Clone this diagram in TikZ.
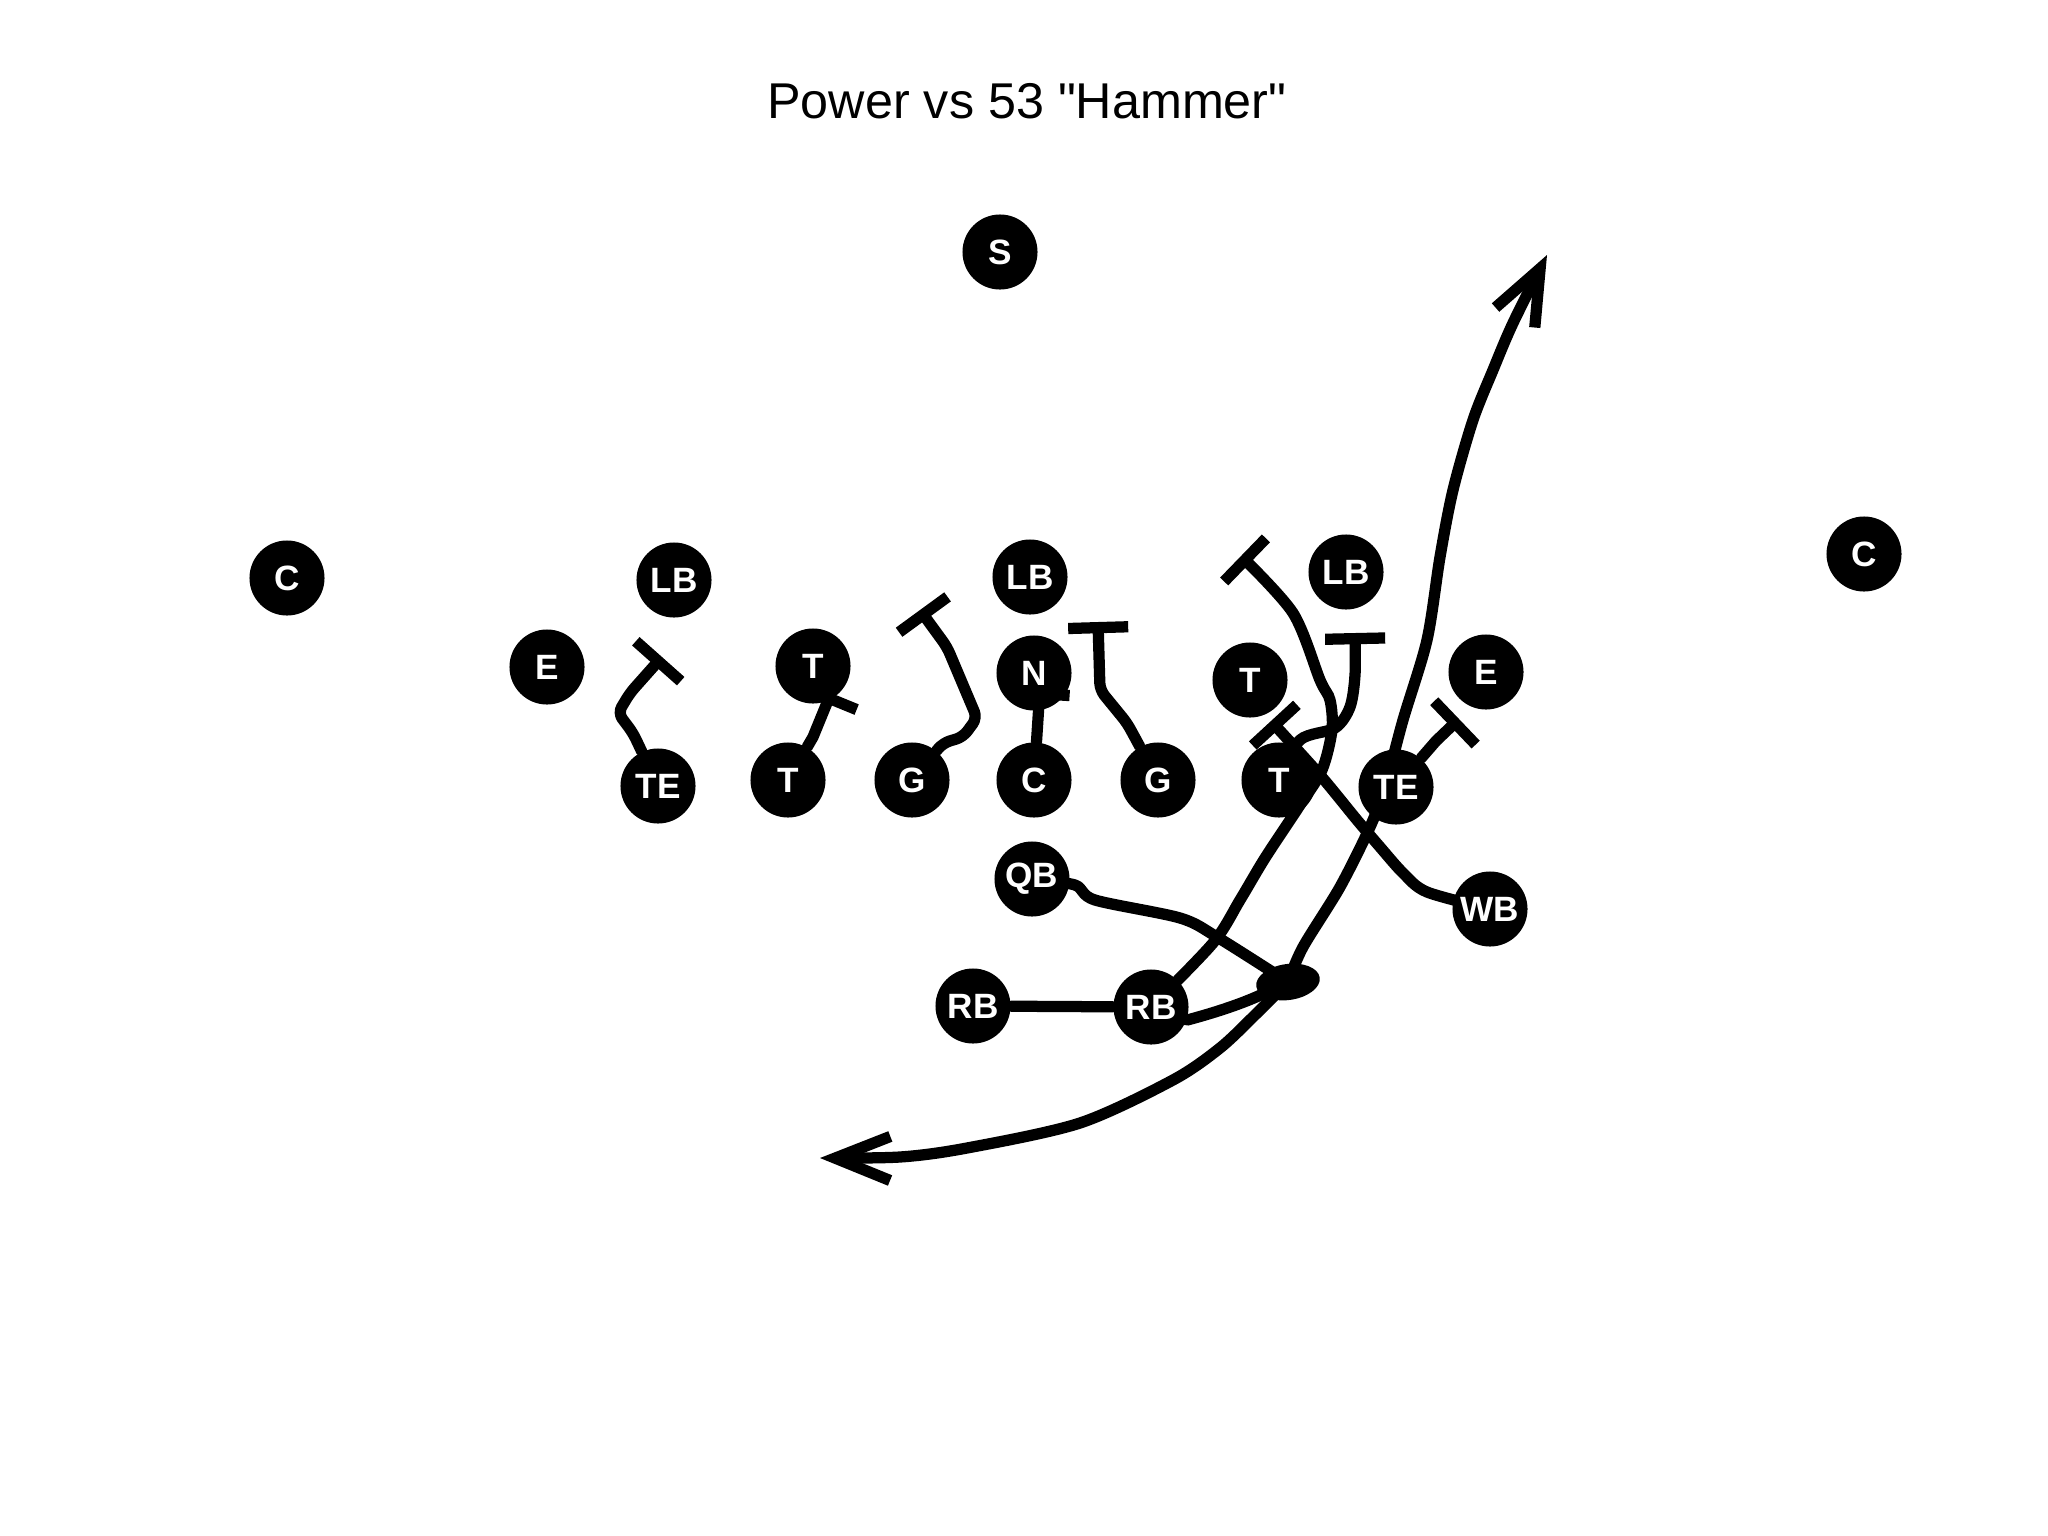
\documentclass[tikz,border=0pt]{standalone}
\usepackage{fontspec}
\setmainfont{Liberation Sans}
\usetikzlibrary{arrows.meta,backgrounds,shapes.geometric}

\begin{document}
\begin{tikzpicture}[x=0.01cm, y=-0.01cm,
  PlayerStyle/.style = {shape=circle, fill=black, text=white, minimum size=0.75cm, inner sep=0pt, font=\fontsize{10}{12}\selectfont\bfseries},
  RouteStyle/.style = {line width=3.2pt, line cap=round, line join=round},
  BlockStyle/.style = {RouteStyle, -{Bar[width=6mm]}},
  RunStyle/.style = {RouteStyle, -{Straight Barb[length=5.5mm, width=4.4mm]}}]

  \useasboundingbox (0,0) rectangle (2048,1536);
  \node[font=\fontsize{14.3}{17}\selectfont, anchor=base] (title) at (1027,118) {Power vs 53 \textquotedbl Hammer\textquotedbl};

  % defense
  \node[PlayerStyle] (sfty) at (1000,252) {S};
  \node[PlayerStyle] (cbL)  at (287,578)  {C};
  \node[PlayerStyle] (cbR)  at (1864,554) {C};
  \node[PlayerStyle] (lbL)  at (674,580)  {LB};
  \node[PlayerStyle] (lbM)  at (1030,577) {LB};
  \node[PlayerStyle] (lbR)  at (1346,572) {LB};
  \node[PlayerStyle] (deL)  at (547,667)  {E};
  \node[PlayerStyle] (dtL)  at (813,666)  {T};
  \node[PlayerStyle] (nose) at (1034,673) {N};
  \node[PlayerStyle] (dtR)  at (1250,680) {T};
  \node[PlayerStyle] (deR)  at (1486,672) {E};

  % offense
  \node[PlayerStyle] (teL) at (658,786)  {TE};
  \node[PlayerStyle] (otL) at (788,780)  {T};
  \node[PlayerStyle] (ogL) at (912,780)  {G};
  \node[PlayerStyle] (ctr) at (1034,780) {C};
  \node[PlayerStyle] (ogR) at (1158,780) {G};
  \node[PlayerStyle] (otR) at (1279,780) {T};
  \node[PlayerStyle] (teR) at (1396,787) {TE};
  \node[PlayerStyle] (qb)  at (1032,879) {QB};
  \node[PlayerStyle] (wb)  at (1490,909) {WB};
  \node[PlayerStyle] (rbL) at (973,1006) {RB};
  \node[PlayerStyle] (rbR) at (1151,1007) {RB};
  \node[ellipse, fill=black, minimum width=0.64cm, minimum height=0.36cm, inner sep=0pt, rotate=8] (ball) at (1288,982) {};

  \begin{scope}[on background layer]
    \fill[white] (0,0) rectangle (2048,1536);

    % blocks
    \draw[BlockStyle, rounded corners=2pt] (teL) -- (633,733) -- (618,713) -- (630,693) -- (662,657);
    \draw[BlockStyle] (otL) -- (813,737) -- (831,693);
    \draw[BlockStyle, rounded corners=2pt] (ogL) -- (943,743) -- (963,737) -- (977,718) -- (947,647) -- (920,610);
    \draw[BlockStyle] (ctr) -- (1040,688);
    \draw[BlockStyle, rounded corners=2pt] (ogR) -- (1127,723) -- (1100,690) -- (1098,622);
    \draw[BlockStyle] plot[smooth] coordinates {(otR) (1300,740) (1335,728) (1350,707) (1355,675) (1355,633)};
    \draw[BlockStyle] plot[smooth] coordinates {(wb) (1427,892) (1403,873) (1380,847) (1357,820) (1320,775) (1271,721)};
    \draw[BlockStyle] (teR) -- (1436,741) -- (1459,719);
    \draw[BlockStyle] plot[smooth] coordinates {(rbR) (1213,943) (1240,900) (1265,858) (1300,805) (1322,770) (1332,730) (1330,700) (1320,680) (1293,613) (1241,556)};

    % backfield
    \draw[RouteStyle] (rbL) -- (rbR);
    \draw[RouteStyle] plot[smooth] coordinates {(qb) (1075,885) (1095,900) (1180,918) (1217,937) (ball)};
    \draw[RouteStyle] (rbR.-20) .. controls (1225,1010) and (1250,1000) .. (ball);

    % ball carrier
    \draw[RunStyle] plot[smooth] coordinates {(ball) (1303,947) (1340,887) (1370,827) (1385,787) (1403,720) (1427,640) (1440,557) (1453,490) (1473,420) (1493,370) (1513,323) (1547,255)};
    \draw[RunStyle] plot[smooth] coordinates {(ball) (1255,1015) (1220,1048) (1173,1080) (1080,1123) (967,1148) (900,1157) (820,1158)};
  \end{scope}
\end{tikzpicture}
\end{document}
